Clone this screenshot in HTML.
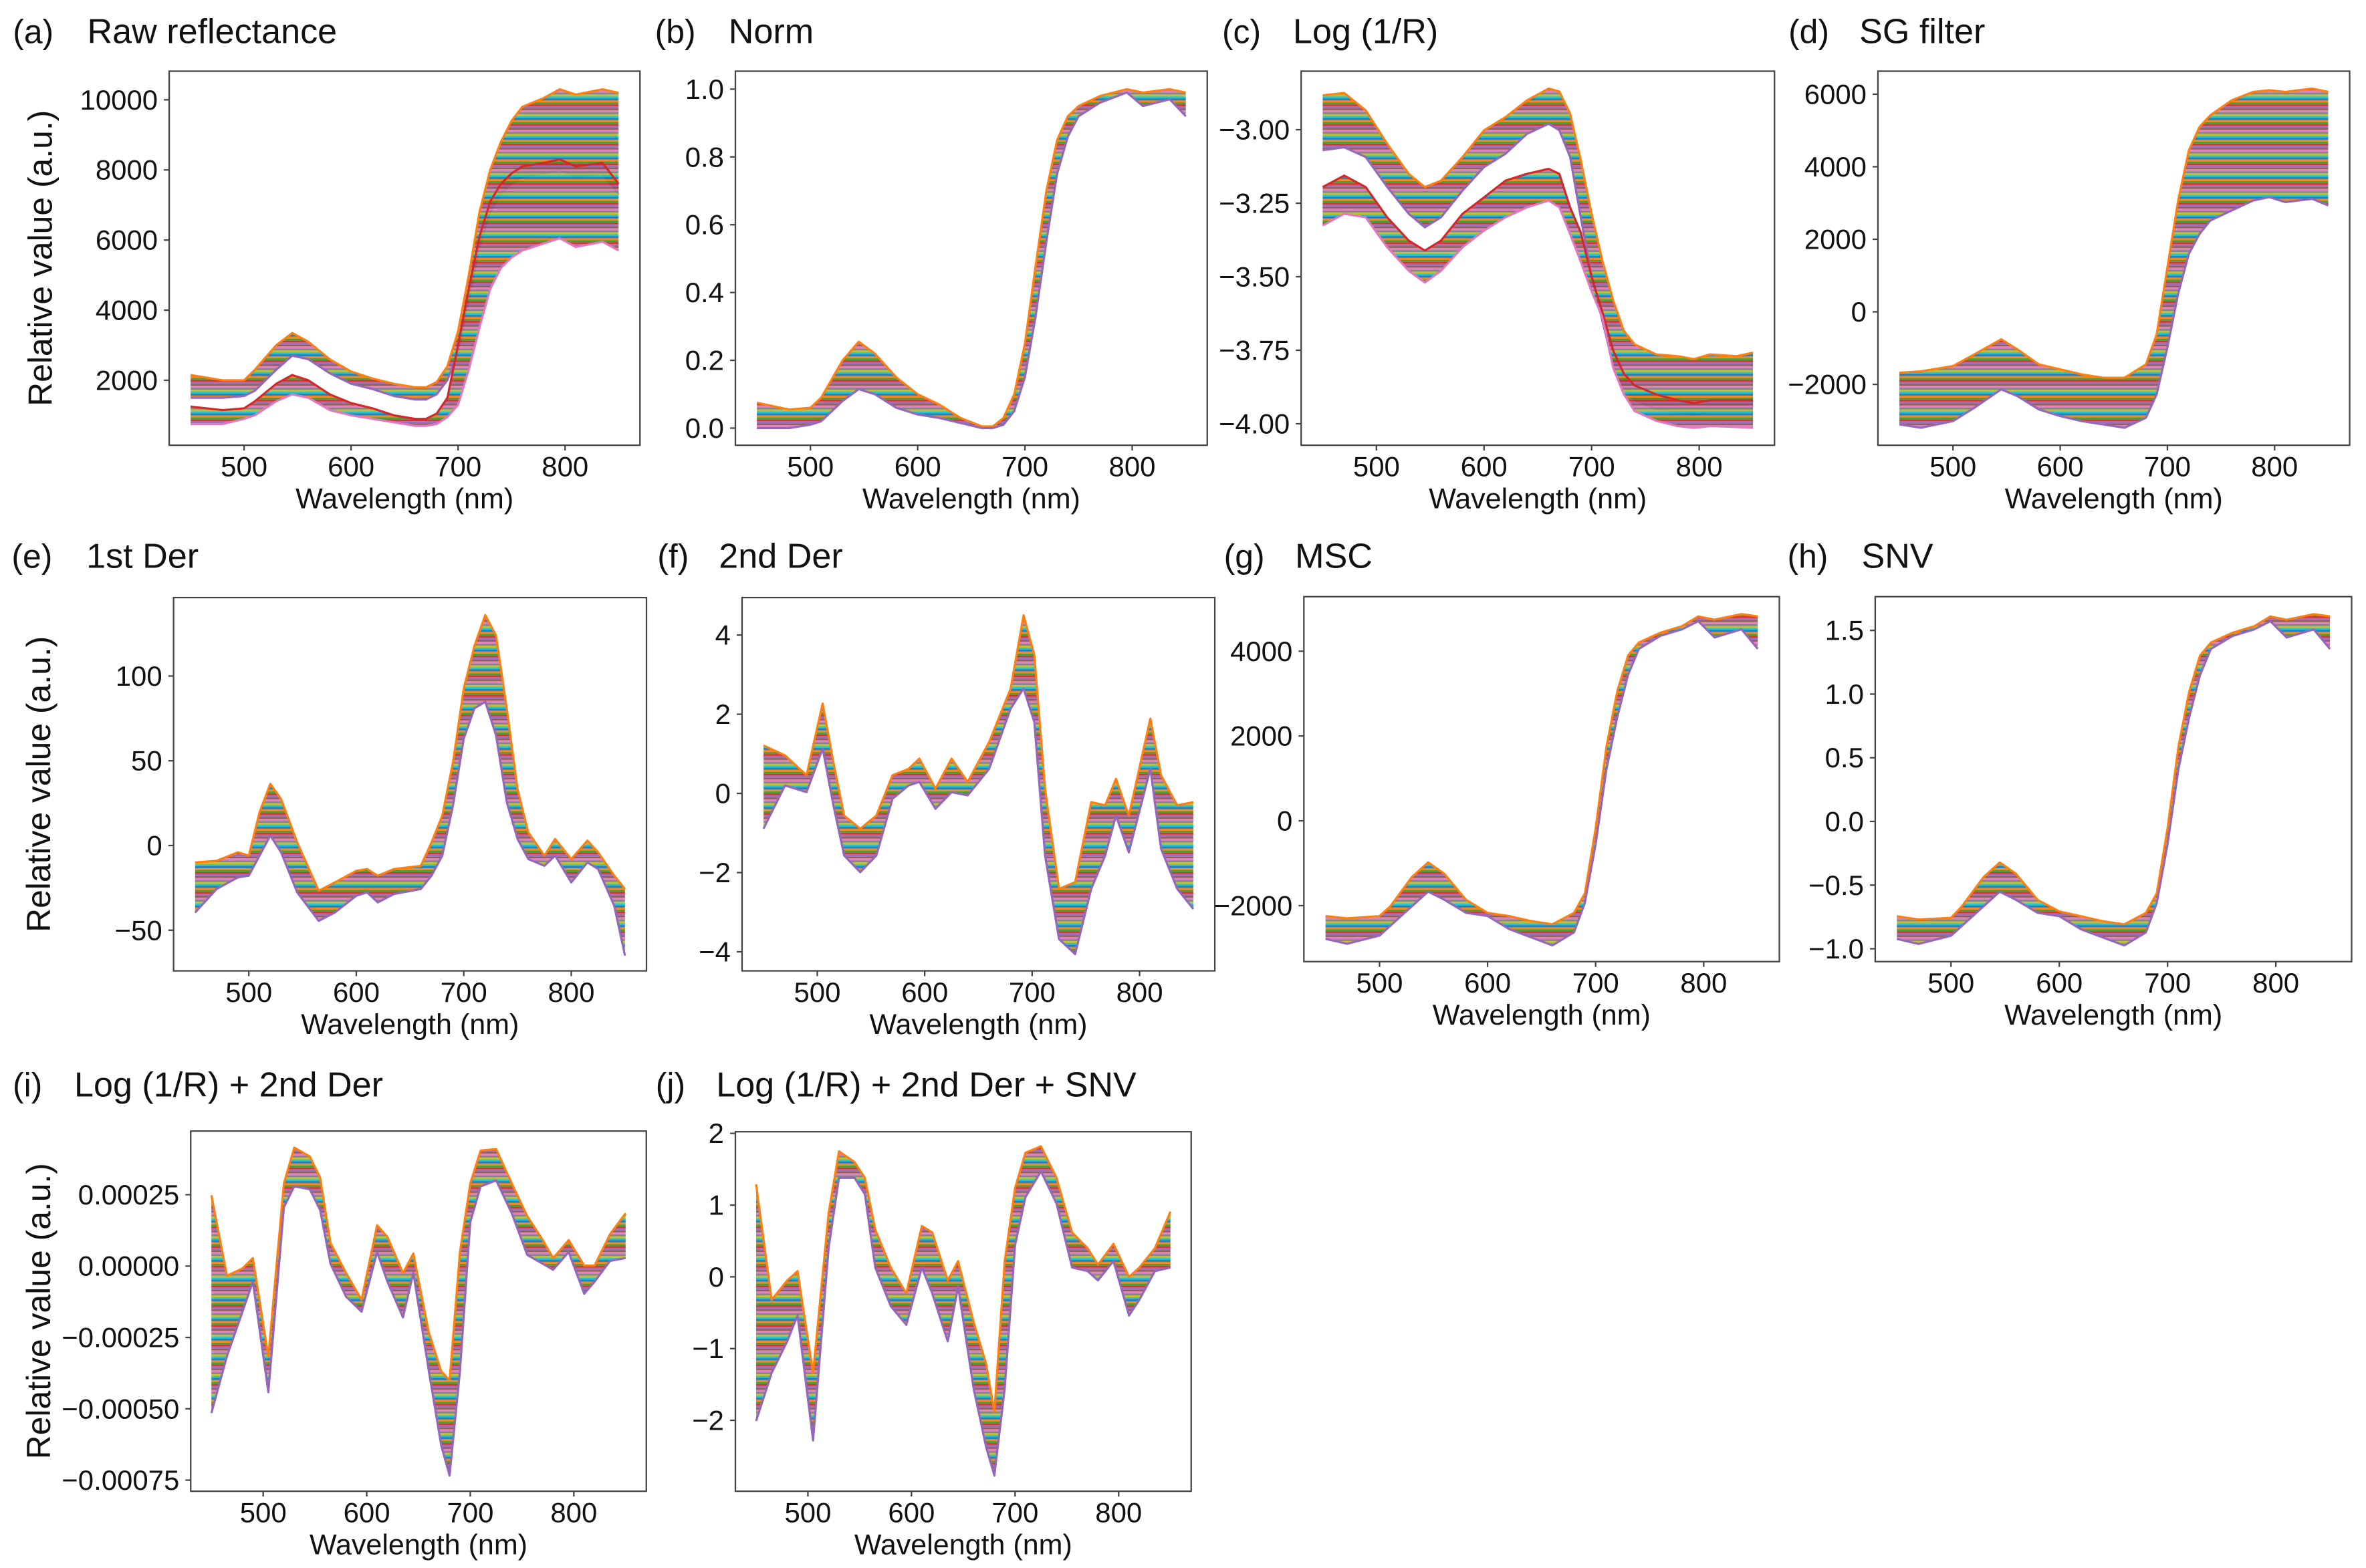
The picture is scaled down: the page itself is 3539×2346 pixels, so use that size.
<!DOCTYPE html>
<html><head><meta charset="utf-8"><title>Spectral preprocessing</title>
<style>html,body{margin:0;padding:0;background:#fff}svg{display:block}text{font-family:"Liberation Sans",Arial,sans-serif;fill:#111}</style>
</head><body>
<svg id="fig" width="3539" height="2346" viewBox="0 0 1562 1035.4" preserveAspectRatio="none" xmlns="http://www.w3.org/2000/svg">
<defs>
<pattern id="stripes" patternUnits="userSpaceOnUse" width="8" height="13">
<rect y="0" width="8" height="1.3" fill="#1f77b4"/><rect y="1.3" width="8" height="1.3" fill="#ff7f0e"/><rect y="2.6" width="8" height="1.3" fill="#2ca02c"/><rect y="3.9" width="8" height="1.3" fill="#d62728"/><rect y="5.2" width="8" height="1.3" fill="#9467bd"/><rect y="6.5" width="8" height="1.3" fill="#8c564b"/><rect y="7.8" width="8" height="1.3" fill="#e377c2"/><rect y="9.1" width="8" height="1.3" fill="#7f7f7f"/><rect y="10.4" width="8" height="1.3" fill="#bcbd22"/><rect y="11.7" width="8" height="1.3" fill="#17becf"/>
</pattern>
</defs>
</svg>
<script>
// ---------- data ----------
const aWl=[450,480,500,510,530,545,560,580,600,620,640,660,670,680,690,700,710,720,730,740,750,760,780,795,810,835,850];
const aHiUpper=[2150,2000,2000,2300,3000,3350,3100,2600,2250,2050,1900,1800,1800,1950,2400,3400,5000,6800,8000,8800,9400,9800,10050,10300,10150,10300,10200];
const aHiLower=[1500,1500,1550,1700,2300,2700,2600,2200,1900,1750,1550,1450,1450,1600,2000,2800,4300,5800,6800,7300,7600,7800,7900,8000,7800,7900,7300];
const aLoUpper=[1250,1150,1200,1400,1900,2150,2000,1600,1350,1200,1000,900,900,1050,1500,3000,4600,6100,7100,7600,7900,8100,8200,8300,8100,8200,7600];
const aLoLower=[750,750,900,1000,1400,1600,1500,1150,1000,900,800,700,700,750,950,1300,2300,3500,4600,5200,5500,5700,5900,6050,5800,5950,5700];

const bWl=[450,480,500,510,530,545,560,580,600,620,640,660,670,680,690,700,710,720,730,740,750,770,795,810,835,850];
const bUpper=[0.075,0.055,0.06,0.09,0.2,0.255,0.22,0.15,0.1,0.07,0.03,0.005,0.005,0.03,0.1,0.25,0.48,0.7,0.85,0.92,0.95,0.98,1.0,0.99,1.0,0.99];
const bLower=[0.0,0.0,0.01,0.02,0.08,0.115,0.1,0.06,0.04,0.03,0.015,0.0,0.0,0.01,0.05,0.15,0.33,0.55,0.75,0.86,0.92,0.96,0.99,0.95,0.97,0.92];

const cWl=[450,470,490,510,530,545,560,580,600,620,640,660,670,680,690,700,710,720,730,740,760,780,795,810,835,850];
const cHiUpper=[-2.883,-2.875,-2.934,-3.048,-3.15,-3.195,-3.173,-3.093,-3.002,-2.957,-2.9,-2.86,-2.87,-2.945,-3.105,-3.286,-3.445,-3.58,-3.684,-3.73,-3.764,-3.77,-3.78,-3.764,-3.77,-3.758];
const cHiLower=[-3.07,-3.06,-3.093,-3.195,-3.286,-3.332,-3.298,-3.207,-3.127,-3.082,-3.014,-2.98,-3.002,-3.093,-3.3,-3.5,-3.65,-3.8,-3.88,-3.92,-3.95,-3.96,-3.97,-3.96,-3.96,-3.96];
const cLoUpper=[-3.195,-3.156,-3.195,-3.298,-3.377,-3.411,-3.377,-3.286,-3.23,-3.173,-3.15,-3.133,-3.15,-3.264,-3.35,-3.5,-3.62,-3.75,-3.83,-3.87,-3.9,-3.92,-3.93,-3.92,-3.92,-3.92];
const cLoLower=[-3.326,-3.286,-3.298,-3.4,-3.48,-3.52,-3.48,-3.4,-3.343,-3.298,-3.264,-3.241,-3.264,-3.355,-3.45,-3.55,-3.639,-3.81,-3.9,-3.957,-3.99,-4.008,-4.014,-4.008,-4.011,-4.014];

const dWl=[450,470,500,520,545,560,580,600,620,640,660,680,690,700,710,720,730,740,760,780,795,810,835,850];
const dUpper=[-1677,-1640,-1493,-1170,-756,-1032,-1447,-1585,-1723,-1816,-1816,-1447,-618,1226,3069,4450,5100,5420,5834,6065,6110,6065,6157,6065];
const dLower=[-3106,-3198,-3014,-2645,-2138,-2323,-2691,-2876,-3014,-3106,-3198,-2922,-2276,-986,489,1594,2147,2516,2793,3069,3161,3023,3115,2931];

const eWl=[450,470,490,500,510,520,530,545,565,580,600,610,620,635,660,670,680,690,700,710,720,730,740,750,760,775,785,800,815,825,840,850];
const eUpper=[-10,-9,-4,-6,19.7,36.4,27.5,1.9,-26.7,-21.8,-14.9,-13.9,-17.8,-13.9,-12,1.9,17.7,49.3,92.7,118,136,124,81,33.5,7.8,-6,3.9,-8,2.9,-4,-17.8,-25.7];
const eLower=[-39.6,-25.7,-18.8,-17.8,-6,5.8,-4,-27.7,-44.5,-39.6,-29.7,-27.7,-33.6,-28.7,-25.7,-17.8,-6,23.6,63,81,84.8,65,25.6,3.9,-8,-12,-6,-21.8,-10,-13.9,-35.6,-65];

const fWl=[450,470,490,505,515,525,540,555,570,585,595,610,625,640,660,680,692,702,712,725,740,755,768,778,790,810,820,835,850];
const fUpper=[1.21,0.96,0.46,2.27,0.79,-0.56,-0.89,-0.56,0.46,0.62,0.88,0.12,0.88,0.29,1.3,2.65,4.5,3.5,0.12,-2.41,-2.24,-0.22,-0.3,0.37,-0.56,1.89,0.46,-0.3,-0.22];
const fLower=[-0.89,0.2,0.03,1.13,-0.3,-1.57,-1.99,-1.57,-0.14,0.2,0.29,-0.39,0.03,-0.05,0.62,2.14,2.65,1.8,-1.57,-3.68,-4.06,-2.41,-1.57,-0.56,-1.49,0.62,-1.4,-2.41,-2.92];

const gWl=[450,470,500,510,530,545,560,580,600,620,640,660,680,690,700,710,720,730,740,760,780,795,810,835,850];
const gUpper=[-2246,-2300,-2246,-2016,-1324,-979,-1248,-1862,-2170,-2246,-2362,-2439,-2170,-1709,-172,1749,3055,3900,4207,4438,4592,4822,4745,4876,4822];
const gLower=[-2784,-2900,-2707,-2477,-2016,-1670,-1862,-2170,-2246,-2554,-2746,-2938,-2631,-1939,-556,1211,2440,3439,4054,4361,4515,4707,4323,4515,4054];

const hWl=[450,470,500,510,530,545,560,580,600,620,640,660,680,690,700,710,720,730,740,760,780,795,810,835,850];
const hUpper=[-0.744,-0.77,-0.757,-0.667,-0.437,-0.322,-0.411,-0.616,-0.706,-0.744,-0.783,-0.808,-0.718,-0.565,-0.053,0.586,1.02,1.303,1.405,1.482,1.533,1.61,1.584,1.628,1.61];
const hLower=[-0.923,-0.962,-0.898,-0.821,-0.667,-0.552,-0.616,-0.718,-0.744,-0.847,-0.911,-0.974,-0.872,-0.642,-0.181,0.407,0.817,1.149,1.354,1.456,1.508,1.572,1.444,1.508,1.354];

const iWl=[450,465,480,490,505,520,530,545,555,565,580,595,610,620,635,645,660,672,680,690,700,710,725,740,755,770,780,795,810,820,835,850];
const iUpper=[0.000248,-0.000034,-0.000008,0.000028,-0.000316,0.00029,0.000415,0.000384,0.00031,0.000081,-0.000024,-0.000118,0.000143,0.000102,-0.000024,0.000044,-0.000233,-0.000369,-0.0004,0.000049,0.00029,0.000405,0.00041,0.00029,0.000175,0.000091,0.000028,0.000091,0.000002,0.000002,0.000112,0.000185];
const iLower=[-0.000515,-0.000316,-0.00016,-0.000055,-0.000442,0.000206,0.000279,0.000269,0.000196,0.000008,-0.000107,-0.00016,0.000049,-0.000055,-0.00018,-0.000024,-0.000369,-0.00063,-0.000734,-0.000369,0.000154,0.000279,0.0003,0.000185,0.000039,0.000008,-0.000013,0.000049,-0.000097,-0.000055,0.000018,0.000028];

const jWl=[450,465,480,490,505,520,530,545,555,565,580,595,610,620,635,645,660,672,680,690,700,710,725,740,755,770,780,795,810,820,835,850];
const jUpper=[1.29,-0.32,-0.05,0.08,-1.34,0.89,1.75,1.6,1.38,0.66,0.13,-0.23,0.71,0.62,-0.05,0.22,-0.63,-1.21,-1.88,0.22,1.24,1.73,1.82,1.38,0.62,0.4,0.17,0.46,0,0.13,0.4,0.91];
const jLower=[-2.01,-1.34,-0.9,-0.54,-2.28,0.4,1.38,1.38,1.15,0.13,-0.41,-0.67,0.13,-0.23,-0.9,-0.14,-1.56,-2.37,-2.77,-1.56,0.44,1.11,1.47,1.02,0.13,0.08,-0.05,0.22,-0.54,-0.32,0.08,0.13];

const xTicks=[500,600,700,800];
const aYTicks=[2000,4000,6000,8000,10000];
const aYLabels=["2000","4000","6000","8000","10000"];
const bYTicks=[0,0.2,0.4,0.6,0.8,1.0];
const bYLabels=["0.0","0.2","0.4","0.6","0.8","1.0"];
const cYTicks=[-4,-3.75,-3.5,-3.25,-3];
const cYLabels=["\u22124.00","\u22123.75","\u22123.50","\u22123.25","\u22123.00"];
const dYTicks=[-2000,0,2000,4000,6000];
const dYLabels=["\u22122000","0","2000","4000","6000"];
const eYTicks=[-50,0,50,100];
const eYLabels=["\u221250","0","50","100"];
const fYTicks=[-4,-2,0,2,4];
const fYLabels=["\u22124","\u22122","0","2","4"];
const gYTicks=[-2000,0,2000,4000];
const gYLabels=["\u22122000","0","2000","4000"];
const hYTicks=[-1,-0.5,0,0.5,1,1.5];
const hYLabels=["\u22121.0","\u22120.5","0.0","0.5","1.0","1.5"];
const iYTicks=[-0.00075,-0.0005,-0.00025,0,0.00025];
const iYLabels=["\u22120.00075","\u22120.00050","\u22120.00025","0.00000","0.00025"];
const jYTicks=[-2,-1,0,1,2];
const jYLabels=["\u22122","\u22121","0","1","2"];

// ---------- layout ----------
const NS="http://www.w3.org/2000/svg";
const svg=document.getElementById('fig');
function el(tag,attrs,parent){const e=document.createElementNS(NS,tag);for(const k in attrs)e.setAttribute(k,attrs[k]);(parent||svg).appendChild(e);return e;}

const panels=[
 {id:'a',tag:'(a)',title:'Raw reflectance',box:[111.7,47,422.5,294],ylim:[147,10816],tx:[8.5,57.6],ty:21,ylab:26.7,wl:aWl,bands:[[aHiUpper,aHiLower],[aLoUpper,aLoLower]],yt:aYTicks,yl:aYLabels},
 {id:'b',tag:'(b)',title:'Norm',box:[485.5,47,797,294],ylim:[-0.0505,1.053],tx:[432.4,481],ty:21,wl:bWl,bands:[[bUpper,bLower]],yt:bYTicks,yl:bYLabels},
 {id:'c',tag:'(c)',title:'Log (1/R)',box:[859,47,1171.5,294],ylim:[-4.073,-2.801],tx:[806.8,853.6],ty:21,wl:cWl,bands:[[cHiUpper,cHiLower],[cLoUpper,cLoLower]],yt:cYTicks,yl:cYLabels},
 {id:'d',tag:'(d)',title:'SG filter',box:[1239.8,47,1551.2,294],ylim:[-3678,6635],tx:[1180.7,1227.5],ty:21,wl:dWl,bands:[[dUpper,dLower]],yt:dYTicks,yl:dYLabels},
 {id:'e',tag:'(e)',title:'1st Der',box:[114.6,394.6,426.8,641.1],ylim:[-74,146.3],tx:[7.7,57],ty:367.4,ylab:25.5,wl:eWl,bands:[[eUpper,eLower]],yt:eYTicks,yl:eYLabels},
 {id:'f',tag:'(f)',title:'2nd Der',box:[489.9,394.6,802,641.1],ylim:[-4.482,4.945],tx:[434,474.6],ty:367.4,wl:fWl,bands:[[fUpper,fLower]],yt:fYTicks,yl:fYLabels},
 {id:'g',tag:'(g)',title:'MSC',box:[860.8,394,1174.7,635],ylim:[-3321,5286],tx:[808,855],ty:367.4,wl:gWl,bands:[[gUpper,gLower]],yt:gYTicks,yl:gYLabels},
 {id:'h',tag:'(h)',title:'SNV',box:[1238,394,1552.5,635],ylim:[-1.101,1.765],tx:[1180,1229],ty:367.4,wl:hWl,bands:[[hUpper,hLower]],yt:hYTicks,yl:hYLabels},
 {id:'i',tag:'(i)',title:'Log (1/R) + 2nd Der',box:[125.9,746.9,426.7,984.7],ylim:[-0.0007887,0.0004728],tx:[8.4,49],ty:716.5,ylab:25.5,wl:iWl,bands:[[iUpper,iLower]],yt:iYTicks,yl:iYLabels},
 {id:'j',tag:'(j)',title:'Log (1/R) + 2nd Der + SNV',box:[485.5,747.3,786.4,984.7],ylim:[-2.988,2.023],tx:[432.9,472.8],ty:716.5,wl:jWl,bands:[[jUpper,jLower]],yt:jYTicks,yl:jYLabels}
];
const colors=['#1f77b4','#ff7f0e','#2ca02c','#d62728','#9467bd','#8c564b','#e377c2','#7f7f7f','#bcbd22','#17becf'];

panels.forEach(p=>{
  const [x0,y0,x1,y1]=p.box;
  const X=v=>x0+(v-430)/(870-430)*(x1-x0);
  const Y=v=>y1-(v-p.ylim[0])/(p.ylim[1]-p.ylim[0])*(y1-y0);
  const g=el('g',{});
  
  
  const cp=el('clipPath',{id:'clip-'+p.id},g);
  el('rect',{x:x0,y:y0,width:x1-x0,height:y1-y0},cp);
  const plot=el('g',{'clip-path':'url(#clip-'+p.id+')'},g);
  
  
  p.bands.forEach((b,bi)=>{
    const up=b[0],lo=b[1];
    let d='';
    p.wl.forEach((w,k)=>{d+=(k?'L':'M')+X(w).toFixed(2)+','+Y(up[k]).toFixed(2);});
    for(let k=p.wl.length-1;k>=0;k--){d+='L'+X(p.wl[k]).toFixed(2)+','+Y(lo[k]).toFixed(2);}
    d+='Z';
    const band=el('path',{d:d,fill:'url(#stripes)',stroke:'none',opacity:'0.95'},plot);
    
    
    [up,lo].forEach((s,si)=>{
      let dl='';
      p.wl.forEach((w,k)=>{dl+=(k?'L':'M')+X(w).toFixed(2)+','+Y(s[k]).toFixed(2);});
      const ln=el('path',{d:dl,fill:'none',stroke:colors[(bi*2+si*3+1)%10],'stroke-width':'1.4','stroke-linejoin':'round'},plot);
      
      
    });
  });
  const frame=el('rect',{x:x0,y:y0,width:x1-x0,height:y1-y0,fill:'none',stroke:'#444','stroke-width':'1'},g);
  
  
  xTicks.forEach(t=>{
    const xx=X(t);
    el('line',{x1:xx,x2:xx,y1:y1,y2:y1+3.5,stroke:'#444','stroke-width':'1'},g);
    const tl=el('text',{x:xx,y:y1+14,'font-size':'18.5','text-anchor':'middle','dominant-baseline':'central'},g);
    tl.textContent=t;
    
    
  });
  p.yt.forEach((t,k)=>{
    const yy=Y(t);
    el('line',{x1:x0-3.5,x2:x0,y1:yy,y2:yy,stroke:'#444','stroke-width':'1'},g);
    const tl=el('text',{x:x0-7.5,y:yy,'font-size':'18.5','text-anchor':'end','dominant-baseline':'central'},g);
    tl.textContent=p.yl[k];
    
    
  });
  const xl=el('text',{x:(x0+x1)/2,y:y1+35.5,'font-size':'19','text-anchor':'middle','dominant-baseline':'central'},g);
  xl.textContent='Wavelength (nm)';
  
  
  const t1=el('text',{x:p.tx[0],y:p.ty,'font-size':'22','dominant-baseline':'central'},g);
  t1.textContent=p.tag;
  
  
  const t2=el('text',{x:p.tx[1],y:p.ty,'font-size':'23','dominant-baseline':'central'},g);
  t2.textContent=p.title;
  
  
  if(p.ylab){
    const cy=(y0+y1)/2;
    const yl=el('text',{x:p.ylab,y:cy,'font-size':'22','text-anchor':'middle','dominant-baseline':'central',transform:'rotate(-90 '+p.ylab+' '+cy+')'},g);
    yl.textContent='Relative value (a.u.)';
    
    
  }
});
</script>
</body></html>
